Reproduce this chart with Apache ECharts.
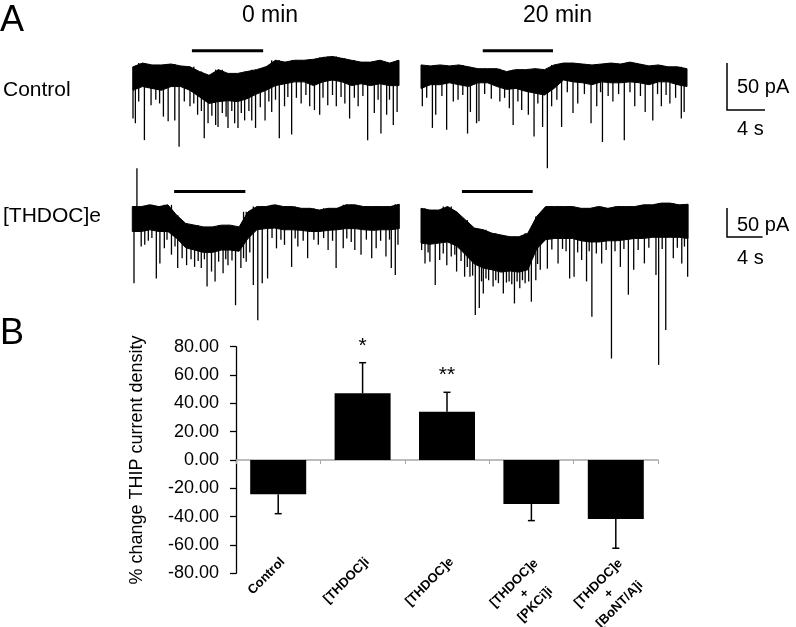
<!DOCTYPE html>
<html><head><meta charset="utf-8">
<script src="https://cdn.jsdelivr.net/npm/echarts@6/dist/echarts.min.js"></script>
<style>html,body{margin:0;padding:0;background:#fff}#c{width:796px;height:627px}</style>
</head><body><div id="c"></div>
<script>
// ---------- Panel A: current traces (pA), envelopes sampled every 1 s ----------
const DT = 1;
// Control, 0 min
const ctl0Top  = [-3,1,-1,-1,0,-2,-3,-8,-12,-6,-10,-10,-8,-6,-3,4,2,4,4,5,7,8,6,4,2,2,4,1,4];
const ctl0Band = [-28,-24,-26,-28,-24,-24,-28,-35,-42,-40,-39,-40,-37,-32,-28,-23,-21,-19,-19,-23,-19,-17,-19,-23,-21,-23,-21,-23,-23];
const ctl0Spikes = [[0.0,-58],[0.25,-63],[0.6,-40],[1.2,-81],[1.9,-44],[2.4,-38],[2.8,-42],[3.2,-56],[3.7,-61],[4.4,-60],[4.85,-88],[5.4,-40],[6.0,-45],[6.4,-42],[6.8,-54],[7.2,-50],[7.5,-79],[7.9,-63],[8.3,-55],[8.7,-65],[8.95,-67],[9.4,-52],[9.8,-56],[10.0,-68],[10.4,-50],[10.7,-63],[11.05,-68],[11.4,-52],[11.75,-60],[12.2,-50],[12.5,-60],[12.9,-68],[13.4,-46],[13.9,-60],[14.3,-40],[14.6,-51],[15.0,-38],[15.4,-79],[15.95,-45],[16.3,-35],[16.7,-75],[17.2,-36],[17.7,-42],[18.2,-33],[18.6,-45],[19.1,-49],[19.65,-54],[20.0,-36],[20.5,-44],[21.0,-33],[21.4,-45],[21.9,-35],[22.3,-42],[22.8,-58],[23.3,-36],[23.7,-45],[24.2,-34],[24.7,-81],[25.4,-52],[25.8,-38],[26.1,-74],[26.7,-54],[27.0,-38],[27.4,-65],[27.8,-51]];
const ctl0Drug = [6.2, 13.7];
// Control, 20 min
const ctl20Top  = [-1,-2,-1,-2,-1,-3,-5,-5,-5,-8,-6,-6,-5,-6,-1,1,1,0,-1,0,1,0,2,0,-2,-1,-3,-3,-5];
const ctl20Band = [-26,-22,-22,-20,-22,-24,-20,-20,-24,-27,-26,-29,-31,-33,-26,-17,-19,-20,-22,-19,-20,-20,-19,-20,-22,-19,-19,-22,-24];
const ctl20Spikes = [[0.14,-45],[0.6,-36],[1.2,-68],[1.55,-54],[2.2,-34],[2.7,-70],[3.4,-40],[3.9,-38],[4.4,-33],[4.9,-74],[5.2,-51],[5.85,-63],[6.1,-61],[6.7,-32],[7.4,-37],[8.3,-40],[8.8,-36],[9.3,-47],[9.7,-65],[10.2,-40],[10.6,-49],[11.3,-54],[11.9,-77],[12.3,-42],[12.8,-67],[13.3,-111],[13.75,-45],[14.3,-38],[14.8,-67],[15.4,-30],[16.0,-52],[16.5,-42],[17.2,-32],[17.9,-63],[18.5,-45],[18.9,-30],[19.1,-83],[19.7,-34],[20.2,-40],[20.8,-32],[21.4,-81],[22.0,-30],[22.5,-45],[23.1,-34],[23.6,-51],[24.4,-60],[24.9,-32],[25.3,-45],[25.8,-33],[26.2,-42],[26.8,-36],[27.4,-58],[27.7,-51]];
const ctl20Drug = [6.5, 13.9];
// [THDOC]e, 0 min
const thd0Top  = [-1,-1,2,-1,2,-16,-30,-33,-36,-36,-33,-33,-36,-10,-1,-1,2,-1,-1,-4,-4,-7,-4,-4,2,2,-1,-1,-1,-1,3];
const thd0Band = [-44,-44,-41,-44,-44,-56,-72,-76,-80,-80,-76,-76,-78,-56,-41,-39,-38,-41,-41,-42,-44,-44,-42,-41,-39,-39,-41,-42,-41,-41,-39];
const thd0Spikes = [[0.19,-133],[0.52,65],[1.0,-70],[1.4,-67],[1.8,-60],[2.2,-55],[2.7,-125],[3.1,-99],[3.6,-73],[3.9,-58],[4.4,-84],[4.8,-70],[5.1,-107],[5.6,-90],[6.1,-102],[6.6,-92],[7.0,-105],[7.4,-95],[7.75,-107],[8.1,-92],[8.4,-139],[8.9,-113],[9.3,-130],[9.7,-96],[10.2,-116],[10.5,-92],[10.75,-102],[11.2,-94],[11.6,-171],[12.2,-107],[12.5,-90],[12.8,-96],[13.2,-80],[13.6,-136],[14.1,-197],[14.6,-133],[15.2,-125],[15.7,-55],[16.2,-73],[16.7,-58],[17.1,-67],[17.9,-105],[18.3,-56],[18.6,-70],[19.2,-60],[19.7,-90],[20.4,-58],[20.9,-67],[21.5,-55],[22.0,-76],[22.5,-60],[22.9,-107],[23.7,-73],[24.1,-56],[24.6,-62],[25.0,-76],[25.7,-84],[26.3,-58],[26.9,-90],[27.4,-73],[27.9,-60],[28.5,-87],[28.9,-58],[29.1,-107],[29.55,-119],[29.85,-67]];
const thd0Drug = [4.7, 12.7];
// [THDOC]e, 20 min
const thd20Top  = [-4,-7,-7,-1,-10,-24,-38,-41,-47,-50,-53,-53,-47,-18,-1,-1,-1,-1,-4,-4,-1,-4,-1,-1,-1,2,2,5,5,2,3];
const thd20Band = [-64,-66,-64,-62,-69,-84,-100,-107,-110,-114,-112,-114,-110,-74,-58,-56,-56,-56,-60,-62,-62,-60,-60,-58,-56,-56,-54,-54,-54,-54,-56];
const thd20Spikes = [[0.07,-76],[0.45,-99],[0.8,-80],[1.0,-96],[1.6,-136],[2.1,-93],[2.5,-82],[2.9,-102],[3.4,-87],[3.8,-84],[4.0,-113],[4.5,-95],[4.9,-122],[5.2,-105],[5.5,-122],[5.8,-120],[6.1,-188],[6.55,-176],[6.8,-130],[7.0,-151],[7.3,-125],[7.6,-128],[8.1,-139],[8.4,-128],[8.7,-133],[9.25,-151],[9.6,-132],[9.9,-130],[10.2,-135],[10.5,-168],[10.8,-130],[11.1,-142],[11.4,-128],[11.7,-133],[12.1,-130],[12.4,-165],[12.9,-128],[13.1,-100],[13.4,-110],[14.2,-108],[14.7,-75],[15.4,-99],[15.9,-74],[16.3,-78],[16.7,-125],[17.2,-122],[17.6,-80],[18.05,-93],[18.6,-130],[18.9,-78],[19.2,-191],[19.7,-82],[20.3,-99],[20.8,-76],[21.4,-263],[21.8,-78],[22.4,-105],[22.8,-74],[23.3,-153],[23.9,-110],[24.4,-76],[25.1,-99],[25.6,-72],[26.4,-119],[26.7,-274],[27.1,-74],[27.5,-214],[28.35,-90],[28.8,-72],[29.3,-99],[29.6,-70],[29.96,-122]];
const thd20Drug = [4.6, 12.55];
const drugLevel = [14, 25];           // pA level of the application bar, per row
const scaleBarPA = 50, scaleBarS = 4; // scale bars
const columnTitles = ['0 min', '20 min'];
const rowTitles = ['Control', '[THDOC]e'];

// ---------- Panel B: bar chart ----------
const categories = ['Control', '[THDOC]i', '[THDOC]e', '[THDOC]e\n+\n[PKCi]i', '[THDOC]e\n+\n[BoNT/A]i'];
const means = [-24.2, 47.1, 34.1, -31.1, -41.6];
const sems  = [13.7, 21.6, 13.7, 11.7, 20.7];
const signif = ['', '*', '**', '', ''];
const yTicks = {min: -80, max: 80, interval: 20};

const FONT = "'Liberation Sans', Arial, Helvetica, sans-serif";

// layout of trace rows (pixels)
const rows = [
  {baseY: 64,  pxPerPA: 0.94, pxPerS: 9.5, yMax: 20, yMin: -120, dur: 28},
  {baseY: 206, pxPerPA: 0.58, pxPerS: 8.9, yMax: 80, yMin: -290, dur: 30}
];
const traces = [
  {row: 0, left: 133,   top: ctl0Top,  band: ctl0Band,  spikes: ctl0Spikes,  drug: ctl0Drug},
  {row: 0, left: 421,   top: ctl20Top, band: ctl20Band, spikes: ctl20Spikes, drug: ctl20Drug},
  {row: 1, left: 132.3, top: thd0Top,  band: thd0Band,  spikes: thd0Spikes,  drug: thd0Drug},
  {row: 1, left: 421,   top: thd20Top, band: thd20Band, spikes: thd20Spikes, drug: thd20Drug}
];

const grid = [], xAxis = [], yAxis = [], series = [];
traces.forEach((tr, i) => {
  const r = rows[tr.row];
  grid.push({left: tr.left, top: r.baseY - r.yMax * r.pxPerPA, width: r.dur * r.pxPerS,
             height: (r.yMax - r.yMin) * r.pxPerPA, outerBoundsMode: 'none', containLabel: false});
  xAxis.push({gridIndex: i, type: 'value', min: 0, max: r.dur, show: false});
  yAxis.push({gridIndex: i, type: 'value', min: r.yMin, max: r.yMax, show: false});
  series.push({
    type: 'custom', xAxisIndex: i, yAxisIndex: i, silent: true, data: [[0, 0]],
    renderItem: (p, api) => {
      const pts = [];
      tr.top.forEach((v, k) => pts.push(api.coord([k * DT, v])));
      for (let k = tr.band.length - 1; k >= 0; k--) pts.push(api.coord([k * DT, tr.band[k]]));
      return {type: 'polygon', shape: {points: pts}, style: {fill: '#000', stroke: '#000', lineWidth: 1}};
    }
  });
  series.push({
    type: 'custom', xAxisIndex: i, yAxisIndex: i, silent: true, data: tr.spikes,
    renderItem: (p, api) => {
      const t = api.value(0), v = api.value(1);
      const k = Math.max(0, Math.min(tr.top.length - 1, Math.round(t / DT)));
      const a = api.coord([t, tr.top[k]]), b = api.coord([t, v]);
      return {type: 'line', shape: {x1: a[0], y1: a[1], x2: b[0], y2: b[1]}, style: {stroke: '#000', lineWidth: 1.3}};
    }
  });
  series.push({
    type: 'line', xAxisIndex: i, yAxisIndex: i, silent: true, symbol: 'none',
    data: [[tr.drug[0], drugLevel[tr.row]], [tr.drug[1], drugLevel[tr.row]]],
    lineStyle: {color: '#000', width: 3}
  });
});

// bar chart grid
const GB = traces.length;
grid.push({left: 236, right: 138, top: 346.7, bottom: 53.7, outerBoundsMode: 'none', containLabel: false});
xAxis.push({gridIndex: GB, type: 'category', data: categories,
  axisLine: {onZero: true, lineStyle: {color: '#a6a6a6', width: 1.5}},
  axisTick: {show: true, interval: 0, length: 4, lineStyle: {color: '#a6a6a6', width: 1}},
  axisLabel: {show: false}, splitLine: {show: false}});
xAxis.push({gridIndex: GB, type: 'category', data: categories, position: 'bottom', offset: -20,
  axisLine: {show: false, onZero: false}, axisTick: {show: false},
  axisLabel: {interval: 0, rotate: 45, margin: 2, fontSize: 13, fontWeight: 'bold', fontFamily: FONT,
    color: '#000', verticalAlign: 'top', align: 'right',
    formatter: v => v.indexOf('\n') < 0 ? v : v.split('\n').map(s => '{c|' + s + '}').join('\n'),
    rich: {c: {width: 64, align: 'center', fontSize: 13, fontWeight: 'bold', fontFamily: FONT, lineHeight: 15, color: '#000'}}}});
yAxis.push({gridIndex: GB, type: 'value', min: yTicks.min, max: yTicks.max, interval: yTicks.interval,
  name: '% change THIP current density', nameLocation: 'middle', nameGap: 90,
  nameTextStyle: {fontSize: 18, fontFamily: FONT, color: '#000'},
  axisLine: {show: true, lineStyle: {color: '#000', width: 1.3}},
  axisTick: {show: true, length: 6, lineStyle: {color: '#000', width: 1.3}},
  axisLabel: {margin: 17, fontSize: 18, fontFamily: FONT, color: '#000', formatter: v => v.toFixed(2)},
  splitLine: {show: false}});

series.push({type: 'bar', xAxisIndex: GB, yAxisIndex: GB, data: means, barWidth: 56,
  itemStyle: {color: '#000'}, silent: true});
series.push({type: 'custom', xAxisIndex: GB, yAxisIndex: GB, silent: true,
  data: means.map((m, i) => [i, m, m + (m >= 0 ? sems[i] : -sems[i])]),
  renderItem: (p, api) => {
    const i = api.value(0);
    const a = api.coord([i, api.value(1)]), b = api.coord([i, api.value(2)]);
    const ch = [
      {type: 'line', shape: {x1: a[0], y1: a[1], x2: b[0], y2: b[1]}, style: {stroke: '#000', lineWidth: 1.5}},
      {type: 'line', shape: {x1: b[0] - 3.5, y1: b[1], x2: b[0] + 3.5, y2: b[1]}, style: {stroke: '#000', lineWidth: 1.5}}
    ];
    if (signif[i]) ch.push({type: 'text', x: b[0], y: b[1] - 17,
      style: {text: signif[i], fontSize: 21, fontFamily: FONT, fill: '#000', align: 'center', verticalAlign: 'middle'}});
    return {type: 'group', children: ch};
  }});

// annotations
function txt(s, x, y, size, align) {
  return {type: 'text', x: x, y: y, silent: true,
    style: {text: s, fontSize: size, fontFamily: FONT, fill: '#000', align: align || 'left', verticalAlign: 'middle'}};
}
const graphic = [
  txt('A', 0, 21, 36), txt('B', 0, 334, 36),
  txt(columnTitles[0], 270, 15.5, 23, 'center'), txt(columnTitles[1], 557.5, 15.5, 23, 'center'),
  txt(rowTitles[0], 3, 90, 21), txt(rowTitles[1], 3, 216, 21),
];
const sb = [{x: 727, yb: 110, ty1: 87, ty2: 129}, {x: 727, yb: 237, ty1: 225, ty2: 258}];
sb.forEach((s, k) => {
  const r = rows[k];
  const h = scaleBarPA * r.pxPerPA, w = scaleBarS * r.pxPerS;
  graphic.push({type: 'polyline', silent: true, shape: {points: [[s.x, s.yb - h], [s.x, s.yb], [s.x + w, s.yb]]},
    style: {stroke: '#000', lineWidth: 1.5, fill: null}});
  graphic.push(txt(scaleBarPA + ' pA', 737, s.ty1, 20));
  graphic.push(txt(scaleBarS + ' s', 737, s.ty2, 20));
});

const chart = echarts.init(document.getElementById('c'));
chart.setOption({animation: false, backgroundColor: '#fff', grid, xAxis, yAxis, series, graphic});
</script></body></html>
